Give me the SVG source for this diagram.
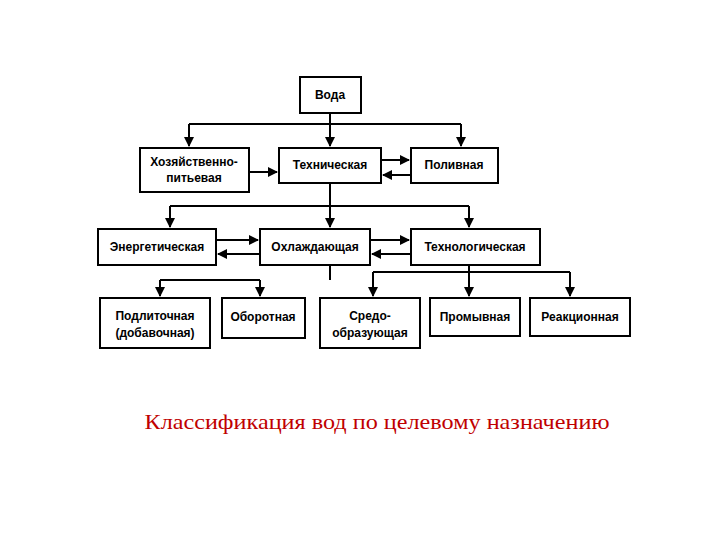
<svg xmlns="http://www.w3.org/2000/svg" width="720" height="540" viewBox="0 0 720 540">
<style>
rect{fill:#fff;stroke:#000;stroke-width:2}
.t{font-family:"Liberation Sans",Arial,sans-serif;font-size:12px;font-weight:bold;text-anchor:middle}
.c path{fill:none;stroke:#000;stroke-width:2}
</style>
<defs><marker id="a" viewBox="0 0 10 10" refX="9" refY="5" markerWidth="5" markerHeight="5" orient="auto"><path d="M0,0L10,5L0,10z" fill="#000"/></marker></defs>
<rect x="0" y="0" width="720" height="540" style="stroke:none"/>
<g class="c">
<path d="M330,113V146M189,124H461M189,124V146M461,124V146"/>
<path d="M330,124V146" marker-end="url(#a)"/>
<path d="M189,124V146" marker-end="url(#a)"/>
<path d="M461,124V146" marker-end="url(#a)"/>
<path d="M249,172H277" marker-end="url(#a)"/>
<path d="M381,160H409" marker-end="url(#a)"/>
<path d="M411,175H383" marker-end="url(#a)"/>
<path d="M330,183V227M170,206H469"/>
<path d="M170,206V227" marker-end="url(#a)"/>
<path d="M469,206V227" marker-end="url(#a)"/>
<path d="M330,206V227" marker-end="url(#a)"/>
<path d="M216,240H258" marker-end="url(#a)"/>
<path d="M260,254H218" marker-end="url(#a)"/>
<path d="M370,240H409" marker-end="url(#a)"/>
<path d="M411,254H372" marker-end="url(#a)"/>
<path d="M330,265V280M160,280H260"/>
<path d="M160,280V296" marker-end="url(#a)"/>
<path d="M260,280V296" marker-end="url(#a)"/>
<path d="M469,265V272M373,272H570"/>
<path d="M373,272V296" marker-end="url(#a)"/>
<path d="M469,272V296" marker-end="url(#a)"/>
<path d="M570,272V296" marker-end="url(#a)"/>
</g>
<g id="voda"><rect x="300" y="77" width="61" height="36"/><text class="t" x="330" y="99">Вода</text></g>
<g id="hoz"><rect x="140" y="148" width="109" height="44"/><text class="t" x="194" y="166">Хозяйственно-</text><text class="t" x="194" y="182">питьевая</text></g>
<g id="teh"><rect x="279" y="148" width="102" height="35"/><text class="t" x="330" y="169">Техническая</text></g>
<g id="pol"><rect x="411" y="148" width="87" height="35"/><text class="t" x="454" y="169">Поливная</text></g>
<g id="energ"><rect x="98" y="229" width="118" height="36"/><text class="t" x="157" y="251">Энергетическая</text></g>
<g id="ohl"><rect x="260" y="229" width="110" height="36"/><text class="t" x="315" y="251">Охлаждающая</text></g>
<g id="tehnol"><rect x="411" y="229" width="129" height="36"/><text class="t" x="475" y="251">Технологическая</text></g>
<g id="podl"><rect x="100" y="298" width="110" height="50"/><text class="t" x="155" y="320">Подлиточная</text><text class="t" x="155" y="337">(добавочная)</text></g>
<g id="obor"><rect x="222" y="298" width="83" height="40"/><text class="t" x="263" y="321">Оборотная</text></g>
<g id="sredo"><rect x="320" y="298" width="100" height="50"/><text class="t" x="370" y="320">Средо-</text><text class="t" x="370" y="337">образующая</text></g>
<g id="prom"><rect x="430" y="298" width="90" height="38"/><text class="t" x="475" y="321">Промывная</text></g>
<g id="reak"><rect x="530" y="298" width="100" height="38"/><text class="t" x="580" y="321">Реакционная</text></g>
<text x="377" y="429" style="font-family:'Liberation Serif',serif;font-size:22px;fill:#c00000;text-anchor:middle" textLength="465" lengthAdjust="spacingAndGlyphs">Классификация вод по целевому назначению</text>
</svg>
